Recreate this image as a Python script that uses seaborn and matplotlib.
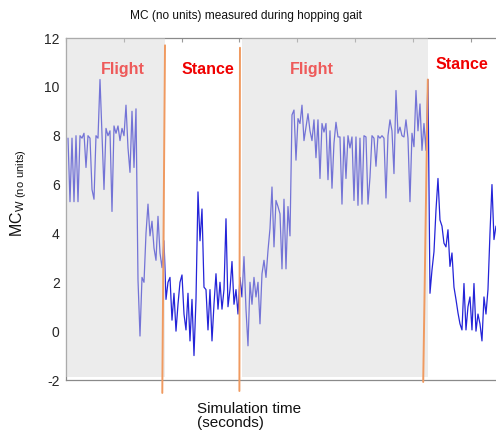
import numpy as np
import pandas as pd
import seaborn as sns
import matplotlib
matplotlib.use("Agg")
import matplotlib.pyplot as plt

sns.set_theme(style="white")
plt.rcParams['font.family'] = ['Liberation Sans', 'DejaVu Sans']
plt.rcParams['axes.unicode_minus'] = False
plt.rcParams['mathtext.fontset'] = 'custom'
plt.rcParams['mathtext.rm'] = 'Liberation Sans'

# MC_W values, one sample every 0.0346 time units
flight1_mc = [7.9, 5.3, 7.9, 5.3, 8.0, 5.3, 8.0, 7.9, 8.1, 6.7,
              8.0, 7.9, 5.8, 5.4, 8.0, 7.9, 10.3, 8.1, 5.8, 8.3,
              8.0, 8.2, 4.9, 8.4, 8.1, 8.4, 7.8, 8.3, 8.0, 9.25,
              7.5, 6.5, 9.0, 6.7, 9.1, 2.1, -0.2, 2.2, 2.0, 4.0,
              5.2, 3.9, 4.5, 3.4, 2.9, 4.7, 3.2, 2.6]
stance1_mc = [3.7, 1.3, 2.0, 2.2, 0.45, 1.55, 0.0, 1.1, 2.0, 2.3,
              0.7, 0.05, 1.55, -0.4, 1.3, -1.0, 1.3, 5.7, 3.7, 5.0,
              1.8, 1.7, 0.05, 1.7, -0.4, 1.1, 2.35, 0.9, 2.0, 0.9,
              1.7, 4.6, 1.0, 1.7, 2.85, 1.1, 1.7, 0.7]
flight2_mc = [2.2, 1.4, 3.05, 0.9, -0.6, 2.0, 1.1, 2.2, 1.4, 2.0,
              0.3, 2.35, 2.9, 2.2, 3.3, 4.2, 5.9, 3.45, 5.35, 5.1,
              4.8, 2.55, 5.4, 2.55, 5.1, 3.9, 8.85, 9.05, 7.0, 8.7,
              8.5, 9.25, 7.8, 8.35, 8.9, 8.2, 7.8, 8.65, 7.1, 8.65,
              6.25, 8.5, 8.15, 8.5, 6.2, 8.2, 5.85, 7.7, 8.55, 7.95,
              7.95, 5.2, 7.95, 6.25, 8.0, 7.5, 7.95, 5.35, 7.95, 5.15,
              7.9, 5.2, 8.0, 7.95, 5.2, 6.3, 8.0, 7.9, 6.75, 8.0,
              7.9, 8.0, 7.9, 5.45, 8.0, 8.65, 8.2, 6.45, 9.85, 8.1,
              8.35, 8.0, 7.95, 8.65, 7.9, 5.3, 8.1, 7.55, 9.85, 8.2,
              9.3, 7.4, 8.5, 7.4, 10.3]
stance2_mc = [1.55, 2.5, 3.25, 4.95, 6.25, 4.55, 4.3, 3.6, 3.45, 4.15,
              2.65, 3.2, 1.8, 1.3, 0.75, 0.3, 0.05, 1.95, 0.05, 1.0,
              1.4, 0.05, 1.95, 0.0, 0.7, 0.3, -0.4, 1.4, 0.7, 1.7,
              4.0, 6.0, 3.75, 4.3, 3.9]

mc_w = flight1_mc + stance1_mc + flight2_mc + stance2_mc
sample_period = 0.0346
time = sample_period * (1 + np.arange(len(mc_w)))
df = pd.DataFrame({"time": time, "mc": mc_w})

# gait phases and the (slightly slanted) phase boundaries
flight_phases = [(0.0, 1.713), (3.04, 6.26)]
boundaries = [((1.713, 1.666), (11.7, -2.53)),
              ((3.01, 3.0), (11.6, -2.45)),
              ((6.26, 6.18), (10.3, -2.08))]
phase_labels = [("Flight", 0.98, 10.73), ("Stance", 2.46, 10.73),
                ("Flight", 4.26, 10.73), ("Stance", 6.85, 10.9)]
phase_colors = {"Flight": "#ee5a5a", "Stance": "#f00000"}

fig = plt.figure(figsize=(4.96, 4.34), dpi=100)
ax = fig.add_axes([66 / 496, 54 / 434, 462.4 / 496, 342 / 434])

sns.lineplot(data=df, x="time", y="mc", ax=ax, color="#2424d8",
             linewidth=0.9, estimator=None, zorder=2)

for start, end in flight_phases:
    ax.axvspan(start, end, ymin=0.008, ymax=1, color="#d5d5d5",
               alpha=0.45, linewidth=0, zorder=3)

for xs, ys in boundaries:
    ax.plot(xs, ys, color="#f09a60", linewidth=1.4, clip_on=False, zorder=4)

for text, x, y in phase_labels:
    ax.text(x, y, text, color=phase_colors[text], fontsize=11.5,
            fontweight="bold", ha="center", va="center", zorder=5)

ax.set_xlim(0, 8)
ax.set_ylim(-2, 12)
ax.set_yticks(range(-2, 13, 2))
ax.set_xticks(range(0, 9))
ax.set_xticklabels([])
ax.tick_params(axis="both", direction="in", length=3, color="#9a9a9a",
               width=0.8, top=True, labelsize=10, labelcolor="#262626")
ax.tick_params(axis="y", pad=4.5)
for side in ["left", "bottom", "top"]:
    ax.spines[side].set_color("#8a8a8a")
    ax.spines[side].set_linewidth(0.9)
ax.spines["right"].set_visible(False)

ax.set_xlabel("")
ax.set_ylabel(r"MC$_{\mathrm{W}\ \mathrm{(no\ units)}}$", fontsize=11.5,
              color="#111111")
ax.yaxis.set_label_coords(-0.08, 0.545)
fig.text(246 / 496, 1 - 16 / 434, "MC (no units) measured during hopping gait",
         fontsize=8.6, color="#111111", ha="center", va="center")
fig.text(197 / 496, 1 - 402 / 434, "Simulation time\n(seconds)",
         fontsize=11, color="#111111", ha="left", va="top",
         linespacing=1.0)

fig.savefig("out.png", dpi=100)
